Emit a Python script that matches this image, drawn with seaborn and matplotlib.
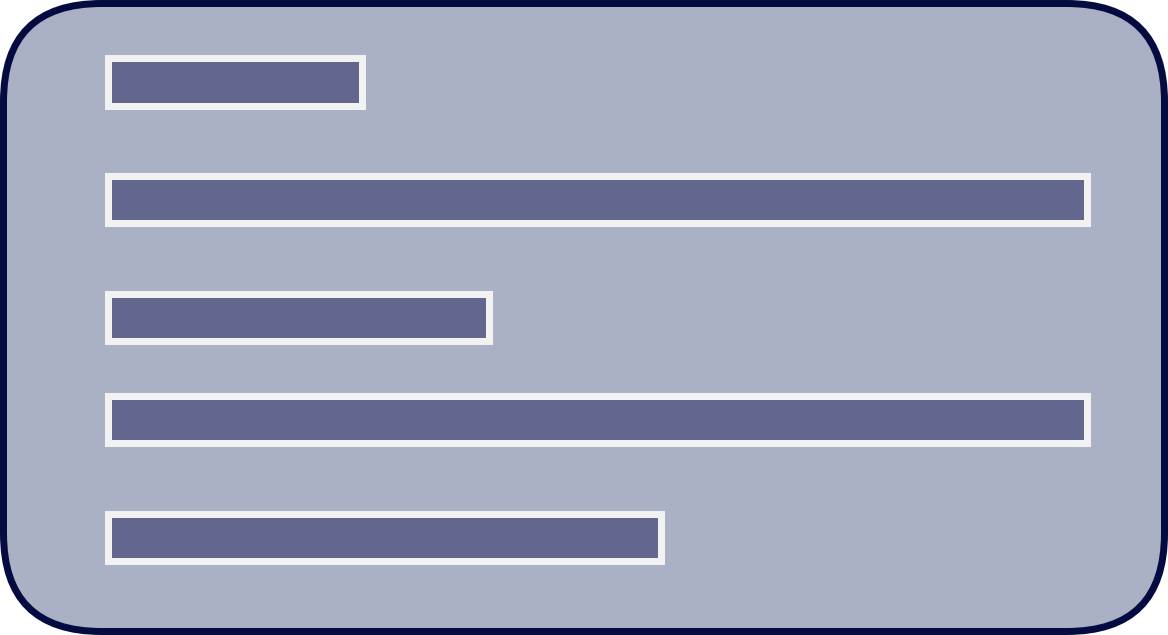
import numpy as np
import pandas as pd
import matplotlib
matplotlib.use('Agg')
import matplotlib.pyplot as plt
from matplotlib.patches import FancyBboxPatch
from matplotlib.transforms import IdentityTransform
import seaborn as sns

# данные
y_pos = [0, 1, 2, 2.87, 3.87]
values = [26, 100, 39, 100, 56.5]

bar_color = '#63678d'
edge_color = '#f2f2f2'
panel_color = '#abb1c5'
border_color = '#040b41'

W, H, DPI = 1168, 635, 100
df = pd.DataFrame({'y': y_pos, 'value': values})

sns.set_theme(style='white')
fig = plt.figure(figsize=(W / DPI, H / DPI), dpi=DPI)
fig.patch.set_facecolor('white')

# скруглённая подложка с тёмной рамкой (под осями)
panel = FancyBboxPatch((3.5, 3.5), W - 7, H - 7,
                       boxstyle='round,pad=0,rounding_size=98',
                       transform=IdentityTransform(),
                       facecolor=panel_color, edgecolor=border_color,
                       linewidth=7 * 72 / DPI, zorder=-1)
fig.patches.append(panel)

ax = fig.add_axes([0, 0, 1, 1])
ax.set_facecolor('none')

bar_h = 0.4  # высота полосы в единицах оси y
sns.barplot(data=df, x='value', y='y', orient='y', native_scale=True,
            width=bar_h / np.min(np.diff(sorted(y_pos))),
            color=bar_color, saturation=1,
            edgecolor=edge_color, linewidth=7 * 72 / DPI, ax=ax)

# 0 -> 107.5px, 100 -> 1086.5px; центр первой полосы 82px, шаг 117.6px
px_x = (1086.5 - 107.5) / 100
ax.set_xlim(-107.5 / px_x, (W - 107.5) / px_x)
px_y = 117.6
ax.set_ylim((H - 82) / px_y, -82 / px_y)
ax.set_axis_off()

fig.savefig('out.png', dpi=DPI)
